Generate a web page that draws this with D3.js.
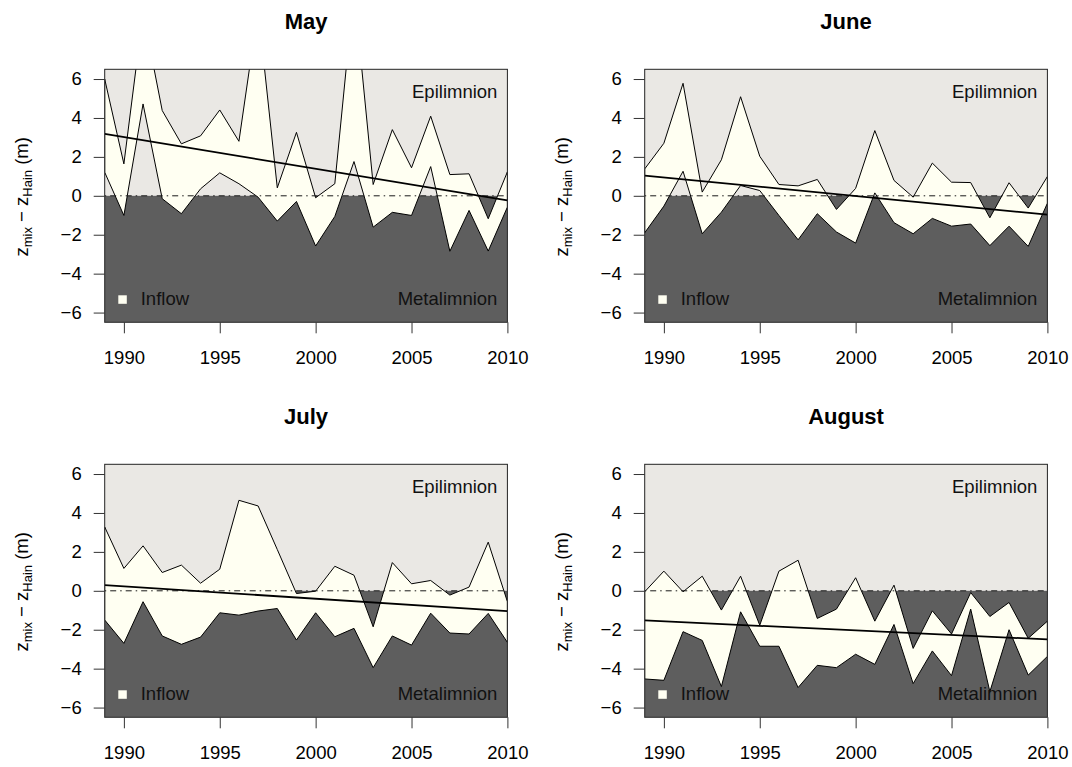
<!DOCTYPE html>
<html>
<head>
<meta charset="utf-8">
<script src="https://d3js.org/d3.v7.min.js"></script>
<style>
  body { margin: 0; background: #fff; }
  text { font-family: "Liberation Sans", Arial, Helvetica, sans-serif; }
</style>
</head>
<body>
<script>
// years on the x axis
const years = [1989, 1990, 1991, 1992, 1993, 1994, 1995, 1996, 1997, 1998, 1999,
               2000, 2001, 2002, 2003, 2004, 2005, 2006, 2007, 2008, 2009, 2010];
const months = ["May", "June", "July", "August"];

// upper and lower edge of the inflow band (m)
const mayUpper = [6.0, 1.64, 9.4, 4.38, 2.67, 3.08, 4.41, 2.80, 9.6, 0.41, 3.26,
                  -0.10, 0.62, 10.6, 0.58, 3.40, 1.44, 4.09, 1.09, 1.13, -1.18, 1.23];
const mayLower = [1.21, -1.01, 4.72, -0.15, -0.92, 0.36, 1.18, 0.62, -0.07, -1.30, -0.29,
                  -2.58, -1.06, 1.76, -1.61, -0.85, -1.01, 1.50, -2.85, -0.75, -2.84, -0.58];
const juneUpper = [1.38, 2.70, 5.78, 0.19, 1.85, 5.09, 2.03, 0.58, 0.51, 0.84, -0.70,
                   0.38, 3.35, 0.79, -0.07, 1.68, 0.70, 0.68, -1.13, 0.67, -0.63, 0.99];
const juneLower = [-1.90, -0.53, 1.26, -1.95, -0.84, 0.53, 0.27, -1.01, -2.26, -0.92, -1.86,
                   -2.43, 0.15, -1.38, -1.95, -1.16, -1.56, -1.45, -2.56, -1.56, -2.60, -0.38];
const julyUpper = [3.28, 1.15, 2.31, 0.94, 1.32, 0.39, 1.11, 4.65, 4.36, 2.12, -0.14,
                   -0.02, 1.26, 0.80, -1.85, 1.45, 0.36, 0.53, -0.22, 0.19, 2.50, -0.56];
const julyLower = [-1.50, -2.70, -0.56, -2.32, -2.75, -2.38, -1.13, -1.25, -1.04, -0.91, -2.53,
                   -1.13, -2.36, -1.93, -3.95, -2.32, -2.79, -1.15, -2.17, -2.22, -1.16, -2.65];
const augUpper = [-0.05, 1.01, -0.05, 0.75, -0.99, 0.75, -1.77, 1.01, 1.57, -1.42, -0.94,
                  0.67, -1.56, 0.29, -2.96, -1.03, -2.22, -0.09, -1.32, -0.60, -2.44, -1.56];
const augLower = [-4.53, -4.60, -2.10, -2.55, -4.92, -1.08, -2.85, -2.85, -4.97, -3.83, -3.95,
                  -3.26, -3.78, -1.73, -4.77, -3.09, -4.36, -0.94, -5.18, -2.00, -4.33, -3.37];

// trend line value at 1989 and at 2010
const mayTrend = [3.18, -0.24];
const juneTrend = [1.04, -0.97];
const julyTrend = [0.29, -1.04];
const augTrend = [-1.52, -2.50];

const xTicks = [1990, 1995, 2000, 2005, 2010];
const yTicks = [-6, -4, -2, 0, 2, 4, 6];

const panels = [
  {title: months[0], upper: mayUpper, lower: mayLower, trend: mayTrend},
  {title: months[1], upper: juneUpper, lower: juneLower, trend: juneTrend},
  {title: months[2], upper: julyUpper, lower: julyLower, trend: julyTrend},
  {title: months[3], upper: augUpper, lower: augLower, trend: augTrend}
];

const W = 1072, H = 767;
const pw = 402.7, ph = 253;
const fs = 18.5;

const svg = d3.select("body").append("svg")
    .attr("width", W)
    .attr("height", H);

const x = d3.scaleLinear().domain([1989, 2010]).range([0, pw]);
const y = d3.scaleLinear().domain([-6.5, 6.5]).range([ph, 0]);

panels.forEach((p, i) => {
  const col = i % 2, row = Math.floor(i / 2);
  const left = 104.7 + col * 540, top = 69.3 + row * 395;

  const g = svg.append("g").attr("transform", `translate(${left},${top})`);

  g.append("clipPath").attr("id", "clip" + i)
    .append("rect").attr("width", pw).attr("height", ph);

  const plot = g.append("g").attr("clip-path", `url(#clip${i})`);

  // epilimnion / metalimnion background
  plot.append("rect")
      .attr("width", pw).attr("height", y(0))
      .attr("fill", "#eae8e4");
  plot.append("rect")
      .attr("y", y(0)).attr("width", pw).attr("height", ph - y(0))
      .attr("fill", "#5e5e5e");

  // inflow band
  const pts = years.map((yr, j) => [x(yr), y(p.upper[j])])
      .concat(years.map((yr, j) => [x(yr), y(p.lower[j])]).reverse());
  plot.append("path")
      .attr("d", "M" + pts.join("L") + "Z")
      .attr("fill", "#fffff2")
      .attr("stroke", "#000")
      .attr("stroke-width", 1)
      .attr("stroke-linejoin", "miter");

  // zero line
  plot.append("line")
      .attr("x1", 0).attr("x2", pw)
      .attr("y1", y(0)).attr("y2", y(0))
      .attr("stroke", "#1a1a1a")
      .attr("stroke-width", 1)
      .attr("stroke-dasharray", "1.5,4,6,4");

  // trend
  plot.append("line")
      .attr("x1", x(1989)).attr("y1", y(p.trend[0]))
      .attr("x2", x(2010)).attr("y2", y(p.trend[1]))
      .attr("stroke", "#000")
      .attr("stroke-width", 1.8);

  // labels inside the plot
  g.append("text")
      .attr("x", pw - 10).attr("y", 29)
      .attr("text-anchor", "end")
      .attr("font-size", fs)
      .attr("fill", "#111")
      .text("Epilimnion");
  g.append("text")
      .attr("x", pw - 10).attr("y", 236)
      .attr("text-anchor", "end")
      .attr("font-size", fs)
      .attr("fill", "#111")
      .text("Metalimnion");
  g.append("rect")
      .attr("x", 13.6).attr("y", 226)
      .attr("width", 8.5).attr("height", 8.5)
      .attr("fill", "#fffff2");
  g.append("text")
      .attr("x", 36).attr("y", 236)
      .attr("font-size", fs)
      .attr("fill", "#111")
      .text("Inflow");

  // box
  g.append("rect")
      .attr("width", pw).attr("height", ph)
      .attr("fill", "none")
      .attr("stroke", "#222")
      .attr("stroke-width", 1);

  // axes
  const xa = g.append("g")
      .attr("transform", `translate(0,${ph})`)
      .call(d3.axisBottom(x).tickValues(xTicks).tickFormat(d3.format("d"))
        .tickSize(11).tickPadding(18));
  const ya = g.append("g")
      .call(d3.axisLeft(y).tickValues(yTicks).tickFormat(d => d < 0 ? "\u2212" + Math.abs(d) : d)
        .tickSize(11).tickPadding(12));
  [xa, ya].forEach(a => {
    a.select(".domain").remove();
    a.selectAll(".tick line").attr("stroke", "#333");
    a.selectAll(".tick text")
      .attr("font-size", fs)
      .attr("font-family", "Liberation Sans, Arial, sans-serif")
      .attr("fill", "#000");
  });

  // title
  g.append("text")
      .attr("x", pw / 2).attr("y", 29.3 - 69.3)
      .attr("text-anchor", "middle")
      .attr("font-size", 22)
      .attr("font-weight", "bold")
      .text(p.title);

  // y label
  const yl = g.append("text")
      .attr("transform", `translate(-77,${ph / 2 + 1}) rotate(-90)`)
      .attr("text-anchor", "middle")
      .attr("font-size", fs);
  yl.append("tspan").text("z");
  yl.append("tspan").attr("font-size", 13).attr("dy", 4).text("mix");
  yl.append("tspan").attr("dy", -4).text(" \u2212 z");
  yl.append("tspan").attr("font-size", 13).attr("dy", 4).text("Hain");
  yl.append("tspan").attr("dy", -4).text(" (m)");
});
</script>
</body>
</html>
